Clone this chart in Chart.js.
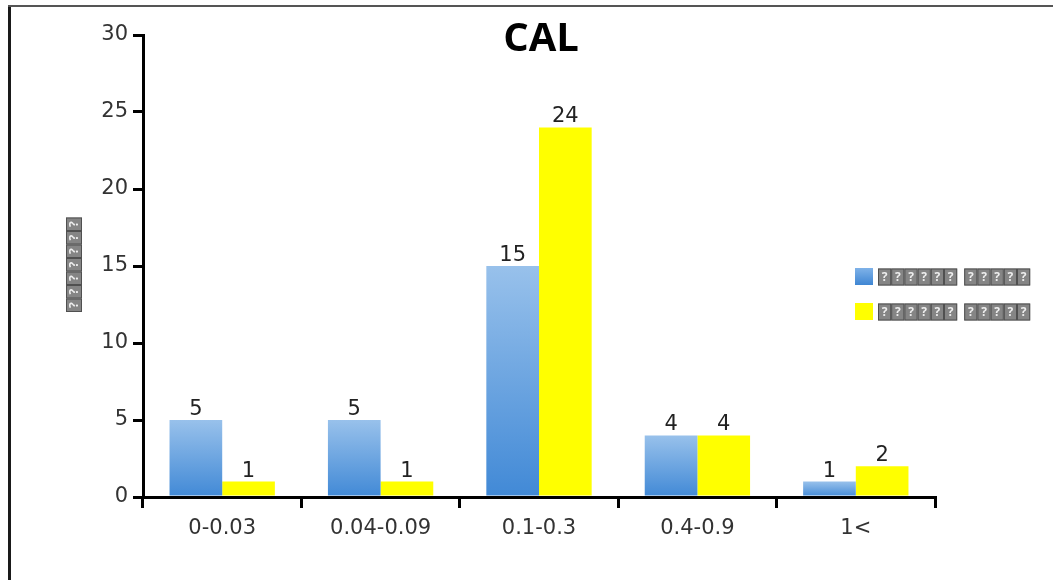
<!DOCTYPE html>
<html><head><meta charset="utf-8">
<style>
html,body{margin:0;padding:0;background:#fff;}
#wrap{position:relative;width:1053px;height:580px;overflow:hidden;}
#frameL{position:absolute;left:8px;top:6px;width:3px;height:580px;background:#1a1a1a;}
#frameT{position:absolute;left:8px;top:5px;width:1045px;height:2px;background:#555;}
canvas{position:absolute;left:0;top:0;}
</style>
<script src="https://cdn.jsdelivr.net/npm/chart.js@4"></script>
</head><body>
<div id="wrap"><canvas id="c" width="1053" height="580"></canvas><div id="frameL"></div><div id="frameT"></div></div>
<script>
const categories = ["0-0.03","0.04-0.09","0.1-0.3","0.4-0.9","1<"];
const seriesBlue = [5,5,15,4,1];
const seriesYellow = [1,1,24,4,2];
const seriesNames = ["?????? ?????","?????? ?????"];
const yTicks = [0,5,10,15,20,25,30];
const yTitle = "???????";
const chartTitle = "CAL";
const FONT = "'DejaVu Sans', sans-serif";
const TFONT = "'Open Sans', 'DejaVu Sans', sans-serif";

function blueGrad(ctx){
  const ch = ctx.chart; const a = ch.chartArea;
  if(!a || ctx.type !== 'data') return '#5b9bd5';
  const yTop = ch.scales.y.getPixelForValue(ctx.raw);
  const yBot = ch.scales.y.getPixelForValue(0);
  const g = ch.ctx.createLinearGradient(0, yTop, 0, yBot);
  g.addColorStop(0, '#98c1eb');
  g.addColorStop(1, '#4189d6');
  return g;
}

// draws text whose glyphs are missing in the original as boxed "?" glyphs
function drawBoxedText(c, text, x, y, step, w, h){
  let cx = x;
  for(let k=0;k<text.length;k++){
    const ch = text[k];
    if(ch === ' '){ cx += 7; continue; }
    c.fillStyle = '#858585';
    c.fillRect(cx, y - h/2, w, h);
    c.strokeStyle = '#505050'; c.lineWidth = 1;
    c.strokeRect(cx+0.5, y - h/2 + 0.5, w-1, h-1);
    c.fillStyle = '#eeeeee';
    c.font = "bold " + Math.round(h*0.72) + "px " + TFONT;
    c.textAlign = 'center'; c.textBaseline = 'middle';
    c.fillText(ch, cx + w/2, y + 1);
    cx += step;
  }
}

const overlay = {
  id:'overlay',
  afterDatasetsDraw(chart){
    const c = chart.ctx; const a = chart.chartArea;
    c.save();
    // value labels
    c.font = "21px " + FONT; c.fillStyle = '#222'; c.textAlign='center'; c.textBaseline='alphabetic';
    chart.data.datasets.forEach((ds,i)=>{
      chart.getDatasetMeta(i).data.forEach((bar,j)=>{
        c.fillText(String(ds.data[j]), bar.x, bar.y - 5);
      });
    });
    // title
    c.font = "bold 40px " + TFONT; c.fillStyle='#000';
    c.fillText(chartTitle, (a.left+a.right)/2 + 2, 51);
    // y title
    c.save();
    c.translate(74, 312); c.rotate(-Math.PI/2);
    drawBoxedText(c, yTitle, 0, 0, 13.5, 13.5, 16);
    c.restore();
    // legend
    chart.data.datasets.forEach((ds,i)=>{
      const y = 268 + i*35;
      if(i===0){
        const g = c.createLinearGradient(0,y,0,y+17);
        g.addColorStop(0,'#7fb2e8'); g.addColorStop(1,'#3f86d3');
        c.fillStyle = g;
      } else c.fillStyle = '#ffff00';
      c.fillRect(855, y, 18, 17);
      drawBoxedText(c, ds.label, 878, y+9, 13.2, 13.2, 17);
    });
    c.restore();
  }
};

new Chart(document.getElementById('c'), {
  type:'bar',
  data:{
    labels: categories,
    datasets:[
      {label: seriesNames[0], data: seriesBlue, backgroundColor: blueGrad, borderWidth:0},
      {label: seriesNames[1], data: seriesYellow, backgroundColor: '#ffff00', borderWidth:0}
    ]
  },
  options:{
    responsive:false, animation:false, devicePixelRatio:1,
    layout:{padding:{left:0,right:118,top:35,bottom:0}},
    plugins:{legend:{display:false}, title:{display:false}, tooltip:{enabled:false}},
    datasets:{bar:{categoryPercentage:0.665, barPercentage:1}},
    scales:{
      x:{
        grid:{drawOnChartArea:false, drawTicks:true, tickLength:11, color:'#000', lineWidth:3, offset:true},
        border:{display:true, color:'#000', width:3},
        ticks:{font:{size:21, family:FONT}, color:'#333', padding:8},
        afterFit(s){ s.height = 83; }
      },
      y:{
        min:0, max:30,
        afterBuildTicks(s){ s.ticks = yTicks.map(v=>({value:v})); },
        grid:{drawOnChartArea:false, drawTicks:true, tickLength:10, color:'#000', lineWidth:3},
        border:{display:true, color:'#000', width:3},
        ticks:{font:{size:21, family:FONT}, color:'#333', padding:5},
        afterFit(s){ s.width = 143; }
      }
    }
  },
  plugins:[overlay]
});
</script>
</body></html>
